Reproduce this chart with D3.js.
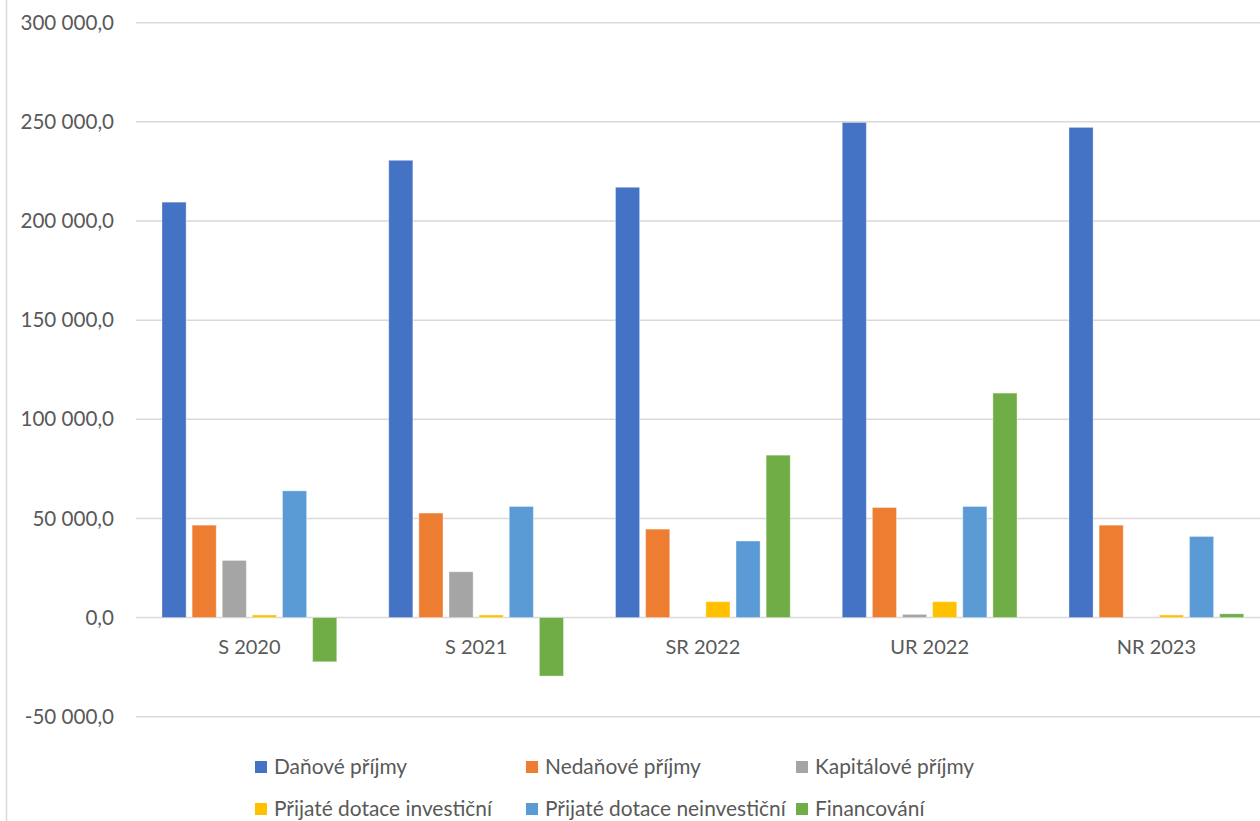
<!DOCTYPE html>
<html><head><meta charset="utf-8">
<script src="https://cdn.jsdelivr.net/npm/d3@7"></script>
<style>html,body{margin:0;padding:0;background:#fff;}svg{display:block;}</style>
</head><body>
<script>
const categories = ["S 2020", "S 2021", "SR 2022", "UR 2022", "NR 2023"];
const seriesNames = ["Daňové příjmy", "Nedaňové příjmy", "Kapitálové příjmy", "Přijaté dotace investiční", "Přijaté dotace neinvestiční", "Financování"];
const danove = [209500, 230600, 217000, 249700, 247200];
const nedanove = [46600, 52700, 44600, 55500, 46600];
const kapitalove = [28800, 23100, 0, 1600, 0];
const dotaceInv = [1300, 1300, 8000, 8000, 1300];
const dotaceNeinv = [63900, 56000, 38600, 56000, 40900];
const financovani = [-22300, -29500, 81900, 113200, 1900];
const yTicks = [-50000, 0, 50000, 100000, 150000, 200000, 250000, 300000];
const colors = ["#4472C4", "#ED7D31", "#A5A5A5", "#FFC000", "#5B9BD5", "#70AD47"];

const seriesValues = [danove, nedanove, kapitalove, dotaceInv, dotaceNeinv, financovani];
const W = 1260, H = 821;
const font = "Lato, 'Open Sans', sans-serif";
const svg = d3.select("body").append("svg").attr("width", W).attr("height", H);

svg.append("line").attr("x1", 6.5).attr("x2", 6.5).attr("y1", 0).attr("y2", H)
  .attr("stroke", "#D9D9D9").attr("stroke-width", 1.5);

const y = d3.scaleLinear().domain([-50000, 300000]).range([716.7, 22.7]);
const step = 226.75;
const x0 = d3.scaleBand().domain(categories).range([136, 136 + step * categories.length]).padding(0);
const x1 = d3.scaleBand().domain(d3.range(seriesNames.length)).range([26, step - 26]).paddingInner(0.2).paddingOuter(0);

const fmt = v => {
  const s = d3.format(",.1f")(v);
  return s.replace(/,/g, " ").replace(".", ",").replace("−", "-");
};

// gridlines
svg.append("g").selectAll("line").data(yTicks).join("line")
  .attr("x1", 136).attr("x2", W)
  .attr("y1", d => y(d)).attr("y2", d => y(d))
  .attr("stroke", "#D9D9D9").attr("stroke-width", 1.5);

// y axis labels
const yAxis = d3.axisLeft(y).tickValues(yTicks).tickSize(0).tickPadding(0).tickFormat(fmt);
const ya = svg.append("g").attr("transform", "translate(114,0)").call(yAxis);
ya.select(".domain").remove();
ya.selectAll("text").attr("font-family", font).attr("font-size", 20.6).attr("fill", "#595959");

// bars
const groups = svg.append("g").selectAll("g").data(categories).join("g")
  .attr("transform", d => `translate(${x0(d)},0)`);
groups.selectAll("rect").data((c, ci) => seriesValues.map((arr, si) => ({si, v: arr[ci]})))
  .join("rect")
  .attr("x", d => x1(d.si))
  .attr("width", x1.bandwidth())
  .attr("y", d => Math.min(y(d.v), y(0)))
  .attr("height", d => Math.abs(y(d.v) - y(0)))
  .attr("fill", d => colors[d.si])
  .attr("stroke", "#ffffff").attr("stroke-opacity", 0.35).attr("stroke-width", 1);

// x labels
const xAxis = d3.axisBottom(x0).tickSize(0).tickPadding(0);
const xa = svg.append("g").attr("transform", `translate(0,${646.5})`).call(xAxis);
xa.select(".domain").remove();
xa.selectAll("text").attr("font-family", font).attr("font-size", 20).attr("fill", "#595959")
  .attr("dy", "0.35em").attr("y", 0);

// legend
const legX = [255, 526, 796];
const legY = [767, 809];
const leg = svg.append("g").selectAll("g").data(seriesNames).join("g")
  .attr("transform", (d, i) => `translate(${legX[i % 3]},${legY[Math.floor(i / 3)]})`);
leg.append("rect").attr("x", 0).attr("y", -6).attr("width", 12).attr("height", 12)
  .attr("fill", (d, i) => colors[i]);
leg.append("text").attr("x", 19).attr("y", 0).attr("dy", "0.35em")
  .attr("font-family", font).attr("font-size", 20.9).attr("fill", "#595959").text(d => d);
</script>
</body></html>
